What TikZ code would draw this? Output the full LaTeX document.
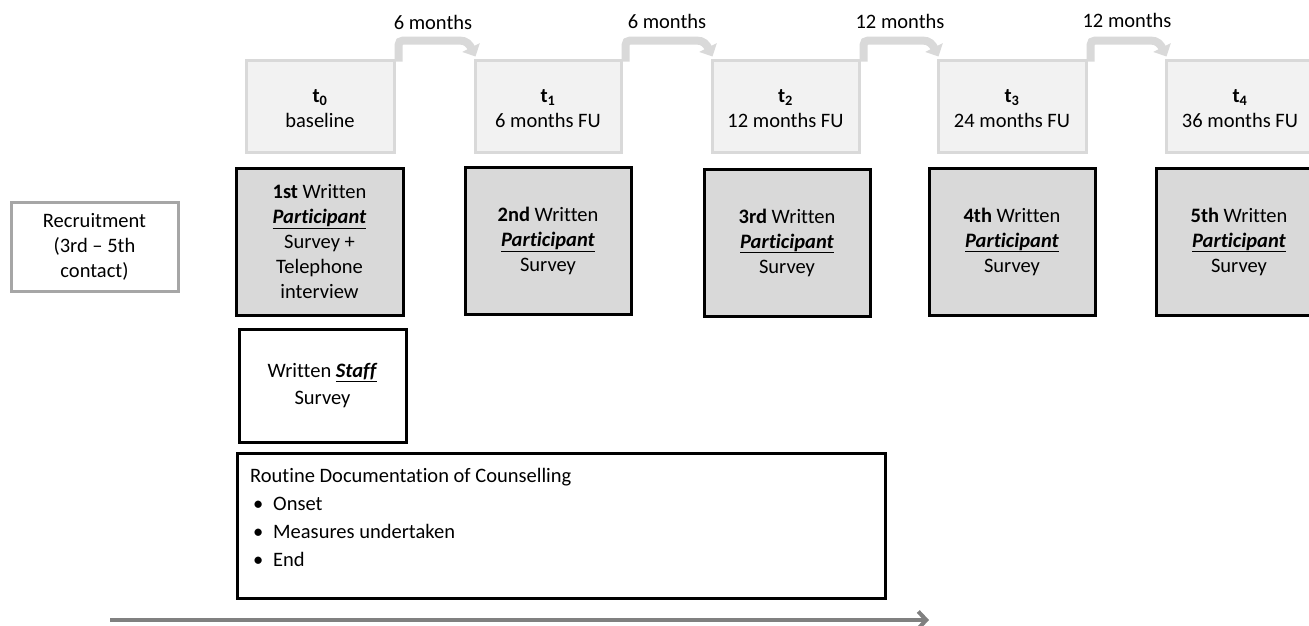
\documentclass[tikz,border=0pt]{standalone}
\usepackage{fontspec}
\setmainfont{Carlito}[Ligatures=NoCommon]
\usetikzlibrary{arrows.meta,calc}
\definecolor{tfill}{HTML}{F2F2F2}
\definecolor{tline}{HTML}{D9D9D9}
\definecolor{pfill}{HTML}{D9D9D9}
\definecolor{recline}{HTML}{A6A6A6}
\definecolor{axisgray}{HTML}{808080}
\newcommand{\ptext}[1]{\textbf{#1} Written\\\underline{\textbf{\textit{Participant}}}\\Survey}
\newcommand{\tlabel}[2]{\raisebox{-4pt}[\height][\depth]{\begin{tabular}{@{}c@{}}\textbf{t}\textsubscript{\textbf{#1}}\\#2\end{tabular}}}
\begin{document}
\begin{tikzpicture}[x=1pt,y=-1pt,
  every node/.style={font=\fontsize{20.5}{25}\selectfont, inner sep=0pt},
  tbox/.style={draw=tline, fill=tfill, line width=3pt, minimum height=92pt},
  pbox/.style={draw=black, fill=pfill, line width=3pt, align=center, minimum width=166pt, minimum height=147pt},
  wbox/.style={draw=black, fill=white, line width=3pt, align=center},
  recbox/.style={draw=recline, fill=white, line width=3pt, align=center},
  bendarrow/.style={draw=tline, line width=8pt, -{Triangle[length=10pt,width=19pt]}},
  timeline/.style={draw=axisgray, line width=4pt, -{Straight Barb[length=8pt,width=17pt,line width=4pt]}},
  listline/.style={anchor=base west, align=left},
  monthlbl/.style={anchor=center}
]
\clip (0,0) rectangle (1309,625);
\fill[white] (0,0) rectangle (1309,625);

% time point boxes
\node[tbox, minimum width=148pt] (t0) at (320,106) {\tlabel{0}{baseline}};
\node[tbox, minimum width=146pt] (t1) at (548,106) {\tlabel{1}{6 months FU}};
\node[tbox, minimum width=147pt] (t2) at (785.5,106) {\tlabel{2}{12 months FU}};
\node[tbox, minimum width=148pt] (t3) at (1012,106) {\tlabel{3}{24 months FU}};
\node[tbox, minimum width=148pt] (t4) at (1240,106) {\tlabel{4}{36 months FU}};

% bent arrows between time points
\foreach \a/\b in {t0/t1,t1/t2,t2/t3,t3/t4}{
  \draw[bendarrow] ($(\a.north east)+(3,3)$) -- ($(\a.north east)+(3,-8)$)
    .. controls ($(\a.north east)+(3,-18)$) .. ($(\a.north east)+(13,-18)$)
    -- ($(\b.north west)+(-14,-18)$)
    .. controls ($(\b.north west)+(-7,-18)$) and ($(\b.north west)+(-4,-14)$) .. ($(\b.north west)+(2,-2)$);
}
\node[monthlbl] (m1) at (433,22) {6 months};
\node[monthlbl] (m2) at (667,21) {6 months};
\node[monthlbl] (m3) at (900,21) {12 months};
\node[monthlbl] (m4) at (1127,20) {12 months};

% recruitment
\node[recbox, minimum width=167pt, minimum height=89pt] (rec) at (94.5,246.5)
  {Recruitment\\(3rd – 5th\\contact)};

% participant surveys
\node[pbox, minimum width=167pt] (p1) at (319.5,241.5)
  {\textbf{1st} Written\\\underline{\textbf{\textit{Participant}}}\\Survey +\\Telephone\\interview};
\node[pbox] (p2) at (548,241) {\ptext{2nd}};
\node[pbox] (p3) at (787,242.5) {\ptext{3rd}};
\node[pbox] (p4) at (1012,241.5) {\ptext{4th}};
\node[pbox] (p5) at (1239,241.5) {\ptext{5th}};

% staff survey
\node[wbox, minimum width=167pt, minimum height=113pt,
  font=\fontsize{20.5}{27}\selectfont] (staff) at (322.5,385.5)
  {Written \underline{\textbf{\textit{Staff}}}\\Survey};

% routine documentation
\node[wbox, minimum width=648pt, minimum height=145pt] (routine) at (561,525.5) {};
\node[listline] (r0) at (250,482) {Routine Documentation of Counselling};
\node[listline] (r1) at (253,510) {\makebox[20pt][l]{\textbullet}Onset};
\node[listline] (r2) at (253,538) {\makebox[20pt][l]{\textbullet}Measures undertaken};
\node[listline] (r3) at (253,566) {\makebox[20pt][l]{\textbullet}End};

% time axis
\coordinate (axstart) at (110,620);
\coordinate (axend) at (929,620);
\draw[timeline] (axstart) -- (axend);
\end{tikzpicture}
\end{document}
